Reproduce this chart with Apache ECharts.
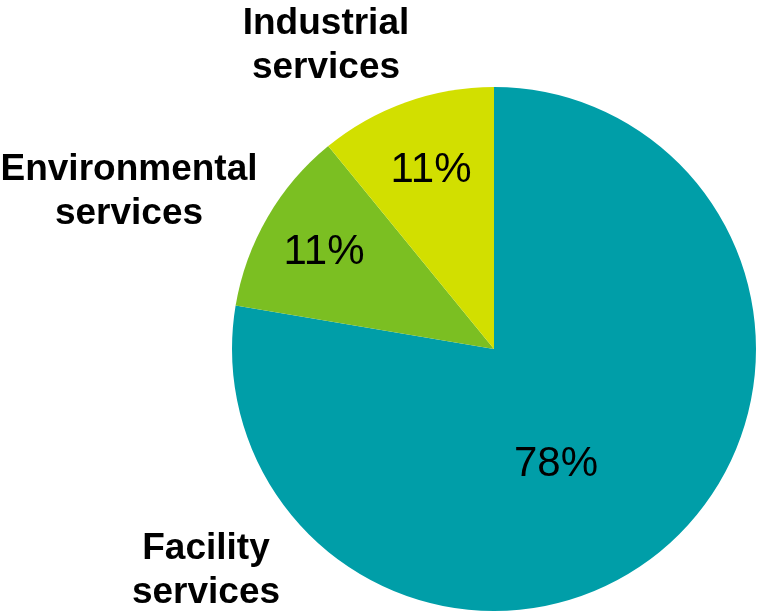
<!DOCTYPE html>
<html><head><meta charset="utf-8">
<script src="https://cdn.jsdelivr.net/npm/echarts@6/dist/echarts.min.js"></script>
<style>html,body{margin:0;padding:0;background:#fff}#c{width:757px;height:611px}</style>
</head><body><div id="c"></div>
<script>
const categories = ['Facility\nservices', 'Environmental\nservices', 'Industrial\nservices'];
const values = [77.65, 11.45, 10.9];
const colors = ['#009ea8', '#7bbf22', '#d2df00'];

const pctPos = [[556, 464], [324, 252], [431, 170]];
const namePos = [[206, 571], [129, 192], [326, 46]];

const data = categories.map((c, i) => ({ name: c, value: values[i], itemStyle: { color: colors[i] } }));
const chart = echarts.init(document.getElementById('c'));
const common = {
  type: 'pie', center: [494, 349], radius: 262, startAngle: 90, clockwise: true,
  silent: true, animation: false, labelLine: { show: false }
};
chart.setOption({
  series: [
    Object.assign({}, common, {
      data: data,
      itemStyle: { borderWidth: 0 },
      label: { show: true, position: 'inside', formatter: p => Math.round(p.percent) + '%', fontFamily: 'Liberation Sans, Arial, sans-serif', fontSize: 42, color: '#000' },
      labelLayout: p => ({ x: pctPos[p.dataIndex][0], y: pctPos[p.dataIndex][1], align: 'center', verticalAlign: 'middle' })
    }),
    Object.assign({}, common, {
      data: data.map(d => ({ name: d.name, value: d.value, itemStyle: { color: 'rgba(0,0,0,0)' } })),
      label: { show: true, position: 'outside', formatter: '{b}', overflow: 'none', edgeDistance: 0, width: 400, fontFamily: 'Liberation Sans, Arial, sans-serif', fontWeight: 'bold', fontSize: 37, lineHeight: 44, color: '#000', align: 'center' },
      labelLayout: p => ({ x: namePos[p.dataIndex][0], y: namePos[p.dataIndex][1], align: 'center', verticalAlign: 'middle' })
    })
  ]
});
</script></body></html>
